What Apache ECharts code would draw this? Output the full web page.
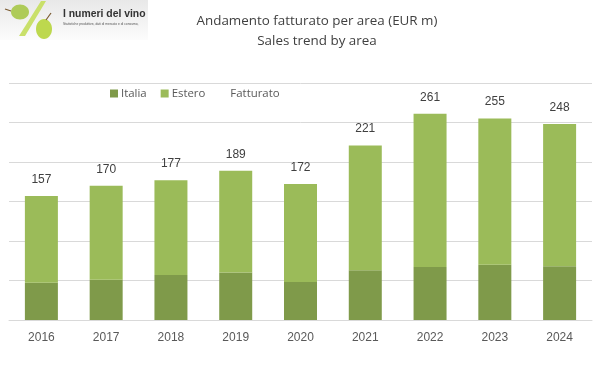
<!DOCTYPE html>
<html><head><meta charset="utf-8">
<script src="https://cdn.jsdelivr.net/npm/echarts@6/dist/echarts.min.js"></script>
<style>html,body{margin:0;padding:0;background:#fff}#c{width:603px;height:370px}</style>
</head><body><div id="c"></div>
<script>
const categories=['2016','2017','2018','2019','2020','2021','2022','2023','2024'];
const italia=[47,51,57,60,48,63,67,70,68];
const estero=[110,119,120,129,124,158,194,185,180];
const fatturato=[157,170,177,189,172,221,261,255,248];
const yTicks=[0,50,100,150,200,250,300];
const titleLines='Andamento fatturato per area (EUR m)\nSales trend by area';
const chart=echarts.init(document.getElementById('c'),null,{renderer:'canvas'});
const textCol='#595959';
chart.setOption({
 animation:false,
 backgroundColor:'#fff',
 title:{text:titleLines,left:312,top:6,textAlign:'center',
  textStyle:{fontFamily:'Open Sans',fontSize:13.4,fontWeight:'normal',color:'#404040',lineHeight:20}},
 legend:{left:105,top:83,itemWidth:8,itemHeight:8,itemGap:14,selectedMode:false,
  textStyle:{fontFamily:'Open Sans',fontSize:11.4,color:textCol,padding:[0,0,0,-2]},
  data:[{name:'Italia',icon:'rect'},{name:'Estero',icon:'rect'},{name:'Fatturato',icon:'none'}]},
 grid:{left:9,right:11,top:83,bottom:50},
 xAxis:{type:'category',data:categories,
  axisTick:{show:false},axisLine:{lineStyle:{color:'#d9d9d9',width:1}},
  axisLabel:{fontFamily:'Liberation Sans',fontSize:12,color:textCol,margin:12}},
 yAxis:{type:'value',min:yTicks[0],max:yTicks[yTicks.length-1],interval:50,
  axisLabel:{show:false},axisLine:{show:false},axisTick:{show:false},
  splitLine:{lineStyle:{color:'#d9d9d9',width:1}}},
 series:[
  {name:'Italia',type:'bar',stack:'a',data:italia,barWidth:33,itemStyle:{color:'#7f9a4a'}},
  {name:'Estero',type:'bar',stack:'a',data:estero,barWidth:33,itemStyle:{color:'#9bbb59'}},
  {name:'Fatturato',type:'line',data:fatturato,symbol:'circle',symbolSize:1,showSymbol:true,showAllSymbol:true,lineStyle:{width:0,opacity:0},itemStyle:{color:'rgba(255,255,255,0)'},
   label:{show:true,position:'top',distance:10,fontFamily:'Liberation Sans',fontSize:12,color:'#404040'}}
 ],
 graphic:[
  {type:'rect',shape:{x:0,y:0,width:148,height:40},style:{fill:new echarts.graphic.LinearGradient(0,0,0,1,[{offset:0,color:'#e8e8e8'},{offset:1,color:'#fcfcfc'}])}},
  {type:'polygon',shape:{points:[[19,36],[41,1],[46,1],[25,36]]},style:{fill:'#c9e06a'}},
  {type:'ellipse',shape:{cx:20,cy:12,rx:9,ry:7.5},style:{fill:'#aecb58'}},
  {type:'ellipse',shape:{cx:44,cy:29,rx:8,ry:10},style:{fill:'#bdd84e'}},
  {type:'line',shape:{x1:46,y1:20,x2:51,y2:13},style:{stroke:'#7a5a30',lineWidth:1.2}},
  {type:'line',shape:{x1:11,y1:11,x2:5,y2:9},style:{stroke:'#7a5a30',lineWidth:1.2}},
  {type:'text',x:63,y:9,style:{text:'I numeri del vino',fontFamily:'Liberation Sans',fontSize:10.4,fontWeight:'bold',fill:'#333'}},
  {type:'text',x:63,y:23,style:{text:'Statistiche produttive, dati di mercato e di consumo,',fontFamily:'Liberation Sans',fontSize:3.3,fill:'#555'}}
 ]
});
</script></body></html>
